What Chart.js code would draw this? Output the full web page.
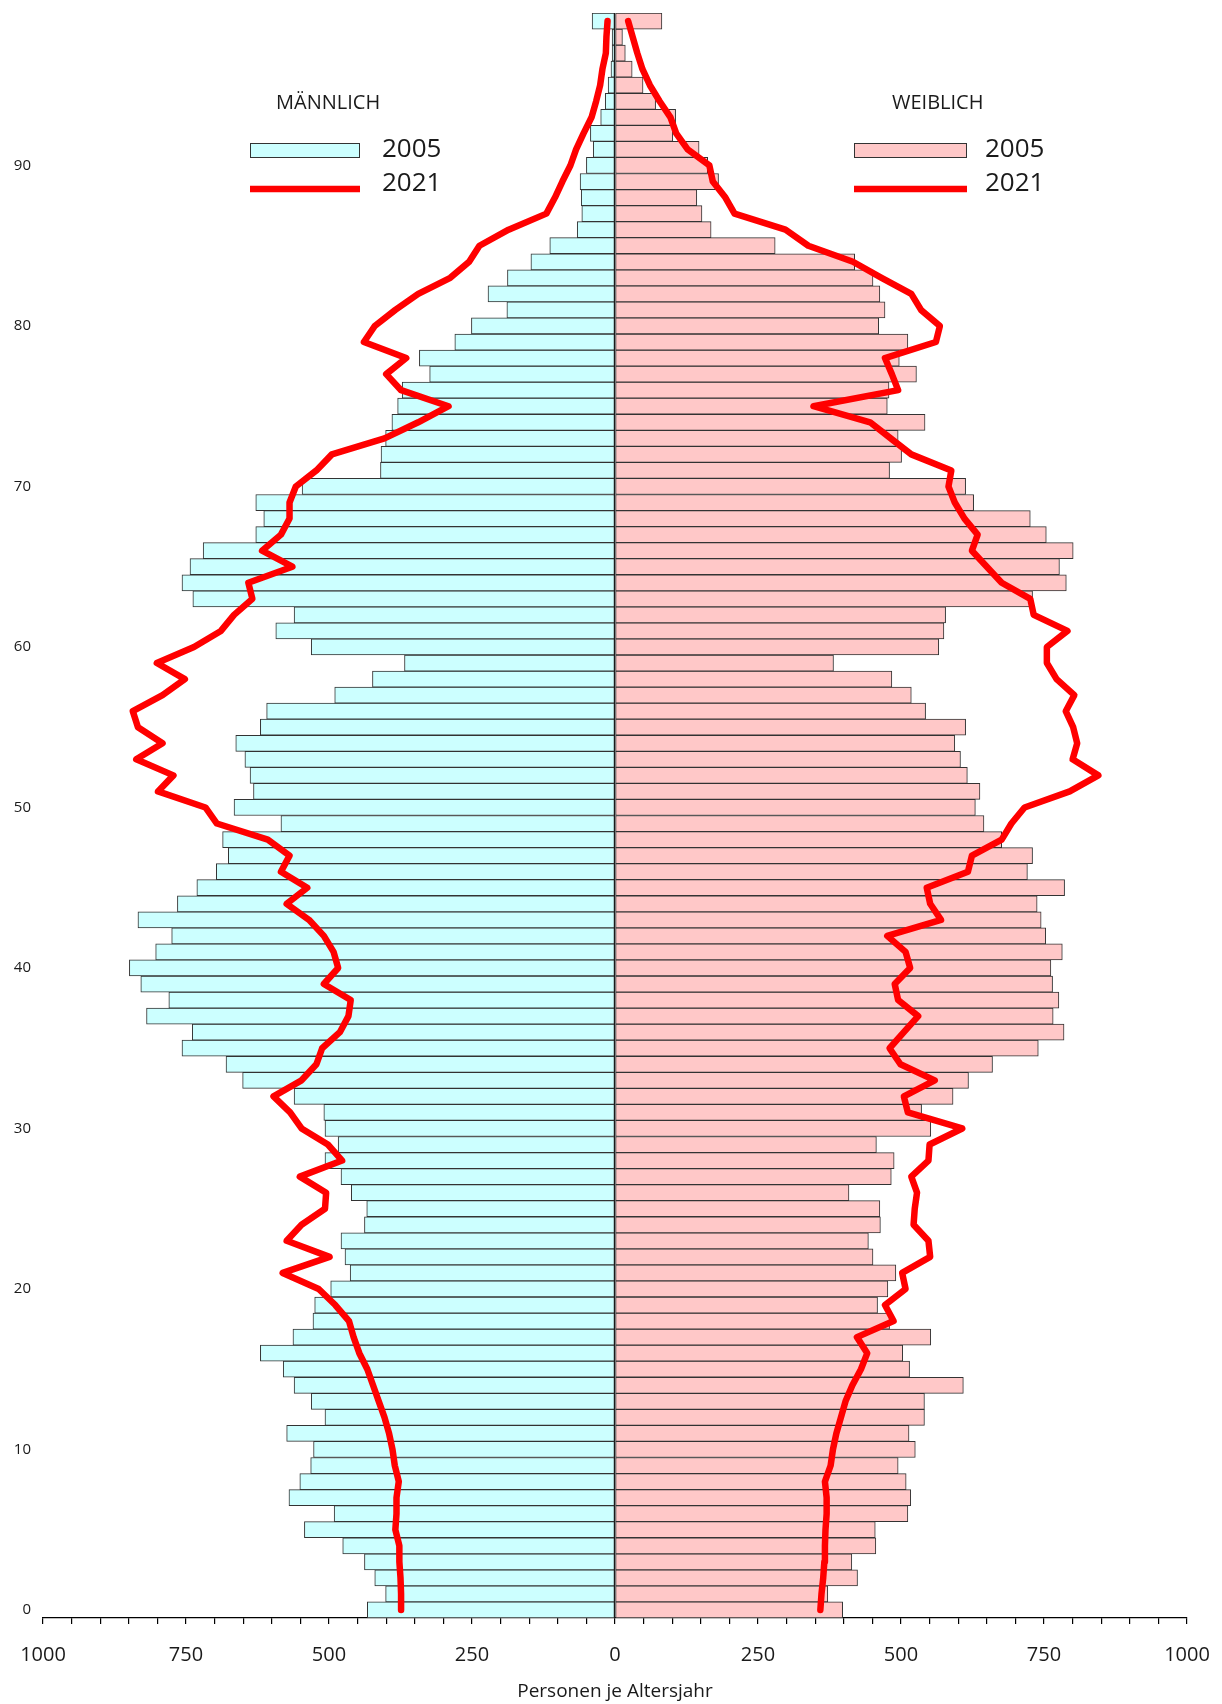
<!DOCTYPE html>
<html lang="de">
<head>
<meta charset="utf-8">
<title>Bevölkerung nach Altersjahren</title>
<script src="https://cdn.jsdelivr.net/npm/chart.js@4.4.1/dist/chart.umd.min.js"></script>
<style>
  html, body { margin: 0; padding: 0; background: #fff; }
  #wrap { width: 1222px; height: 1704px; position: relative; }
</style>
</head>
<body>
<div id="wrap"><canvas id="pyramid"></canvas></div>
<script>
// Altersjahre 0 bis 99 (unten nach oben)
const ages = Array.from({ length: 100 }, (_, i) => String(i));
const ageTicks = ['0', '10', '20', '30', '40', '50', '60', '70', '80', '90'];
const xMajorTicks = [-1000, -750, -500, -250, 0, 250, 500, 750, 1000];

// Personen je Altersjahr, Index = Alter
const male2005 = [
  433, 401, 420, 438, 476, 543, 491, 570, 551, 532,
  527, 574, 507, 531, 561, 580, 620, 563, 528, 525,
  497, 463, 472, 479, 438, 434, 461, 479, 507, 484,
  507, 509, 561, 651, 680, 757, 739, 819, 780, 829,
  849, 803, 775, 834, 765, 731, 697, 676, 686, 584,
  666, 632, 638, 647, 663, 620, 609, 490, 424, 368,
  531, 593, 561, 738, 757, 743, 720, 628, 614, 628,
  547, 410, 409, 401, 390, 380, 372, 324, 342, 280,
  251, 189, 222, 188, 147, 114, 66, 58, 59, 61,
  50, 38, 43, 25, 17, 12, 7, 5, 5, 40
];

const female2005 = [
  398, 372, 424, 414, 456, 455, 512, 517, 509, 495,
  525, 514, 541, 541, 609, 515, 503, 552, 480, 459,
  477, 491, 451, 443, 464, 463, 409, 483, 488, 457,
  552, 536, 591, 618, 660, 740, 785, 766, 776, 765,
  762, 782, 753, 745, 738, 786, 721, 730, 676, 645,
  630, 638, 616, 604, 594, 613, 543, 518, 484, 382,
  566, 575, 578, 730, 789, 777, 801, 754, 726, 627,
  613, 480, 501, 495, 542, 476, 479, 527, 497, 512,
  461, 472, 463, 451, 419, 280, 168, 152, 143, 181,
  162, 147, 101, 106, 71, 49, 30, 18, 13, 82
];

const male2021 = [
  374, 374, 375, 377, 377, 384, 382, 382, 378, 385,
  389, 395, 403, 413, 423, 433, 447, 457, 465, 489,
  518, 581, 499, 574, 548, 507, 505, 551, 477, 502,
  548, 568, 597, 548, 522, 512, 481, 466, 462, 509,
  484, 492, 509, 535, 574, 538, 584, 569, 607, 696,
  716, 799, 772, 837, 791, 834, 843, 791, 752, 801,
  736, 689, 666, 634, 641, 564, 617, 584, 569, 569,
  558, 522, 495, 403, 344, 291, 374, 400, 365, 439,
  420, 384, 344, 288, 255, 237, 186, 120, 105, 92,
  78, 68, 55, 41, 33, 26, 22, 16, 15, 13
];

const female2021 = [
  359, 361, 364, 366, 367, 368, 370, 370, 367, 377,
  381, 387, 395, 403, 415, 430, 441, 423, 487, 472,
  508, 502, 551, 548, 522, 524, 528, 518, 548, 550,
  607, 512, 505, 559, 499, 480, 505, 530, 495, 489,
  516, 508, 476, 570, 551, 545, 617, 624, 676, 693,
  716, 795, 845, 800, 808, 801, 788, 803, 772, 755,
  755, 791, 732, 726, 676, 650, 624, 634, 611, 594,
  583, 588, 518, 482, 446, 347, 495, 484, 472, 561,
  568, 535, 518, 466, 416, 338, 298, 209, 193, 171,
  165, 127, 107, 97, 78, 61, 48, 39, 31, 23
];

const FONT = '"Open Sans", "Noto Sans", sans-serif';
const TEXT = '#1a1a1a';
Chart.defaults.font.family = FONT;

// Zwei Legendenblöcke oben links und rechts
const legendBlocks = [
  { title: 'MÄNNLICH', x: 250, w: 110, titleX: 276, textX: 382, bar: 2, line: 0 },
  { title: 'WEIBLICH', x: 854, w: 113, titleX: 892, textX: 985, bar: 3, line: 1 }
];

const sideLegends = {
  id: 'sideLegends',
  afterDraw(chart) {
    const ctx = chart.ctx;
    ctx.save();
    ctx.textBaseline = 'alphabetic';
    ctx.textAlign = 'left';
    for (const b of legendBlocks) {
      const bars = chart.data.datasets[b.bar];
      const line = chart.data.datasets[b.line];

      ctx.fillStyle = TEXT;
      ctx.font = '20px ' + FONT;
      ctx.fillText(b.title, b.titleX, 109);

      ctx.fillStyle = bars.backgroundColor;
      ctx.fillRect(b.x, 143, b.w, 15);
      ctx.strokeStyle = bars.borderColor;
      ctx.lineWidth = 1;
      ctx.strokeRect(b.x + 0.5, 143.5, b.w - 1, 14);

      ctx.strokeStyle = line.borderColor;
      ctx.lineWidth = line.borderWidth;
      ctx.lineCap = 'butt';
      ctx.beginPath();
      ctx.moveTo(b.x, 189);
      ctx.lineTo(b.x + b.w, 189);
      ctx.stroke();

      ctx.fillStyle = TEXT;
      ctx.font = '26px ' + FONT;
      ctx.fillText(bars.label, b.textX, 157);
      ctx.fillText(line.label, b.textX, 191);
    }
    ctx.restore();
  }
};

const lineStyle = {
  type: 'line',
  indexAxis: 'y',
  borderColor: '#ff0000',
  borderWidth: 6.5,
  pointRadius: 0,
  pointHoverRadius: 0,
  tension: 0,
  borderJoinStyle: 'round',
  borderCapStyle: 'round',
  fill: false,
  order: 0
};

const barStyle = {
  type: 'bar',
  borderColor: '#333333',
  borderWidth: 1,
  borderSkipped: false,
  grouped: false,
  barPercentage: 1,
  categoryPercentage: 1,
  order: 1
};

new Chart(document.getElementById('pyramid'), {
  type: 'bar',
  data: {
    labels: ages,
    datasets: [
      { ...lineStyle, label: '2021', data: male2021.map(v => -v) },
      { ...lineStyle, label: '2021', data: female2021 },
      { ...barStyle, label: '2005', data: male2005.map(v => -v), backgroundColor: '#ccffff' },
      { ...barStyle, label: '2005', data: female2005, backgroundColor: '#ffc8c8' }
    ]
  },
  options: {
    indexAxis: 'y',
    responsive: true,
    maintainAspectRatio: false,
    animation: false,
    layout: { padding: { left: 0, right: 35, top: 13, bottom: 0 } },
    plugins: {
      legend: { display: false },
      tooltip: { enabled: false }
    },
    scales: {
      x: {
        type: 'linear',
        min: -1000,
        max: 1000,
        z: 1,
        ticks: {
          stepSize: 50,
          maxTicksLimit: 100,
          autoSkip: false,
          maxRotation: 0,
          padding: 19,
          color: TEXT,
          font: { size: 20 },
          callback: v => xMajorTicks.includes(v) ? String(Math.abs(v)) : ''
        },
        grid: {
          color: c => (c.tick && c.tick.value === 0) ? '#000000' : 'rgba(0,0,0,0)',
          tickColor: '#000000',
          tickLength: 6,
          lineWidth: 1.2
        },
        border: { display: true, color: '#000000', width: 1.3 },
        title: {
          display: true,
          text: 'Personen je Altersjahr',
          color: TEXT,
          font: { size: 19 },
          padding: { top: 0, bottom: 1 }
        },
        // feste Achsenhöhe, Randabstände über layout.padding
        afterFit: s => { s.height = 86; s.paddingLeft = 0; s.paddingRight = 0; }
      },
      y: {
        reverse: true,
        grid: { display: false, drawTicks: false },
        border: { display: false },
        ticks: {
          autoSkip: false,
          padding: 12,
          color: TEXT,
          font: { size: 15 },
          callback: function (v) {
            const lab = this.getLabelForValue(v);
            return ageTicks.includes(lab) ? lab : '';
          }
        },
        afterFit: s => { s.width = 43; s.paddingTop = 0; s.paddingBottom = 0; }
      }
    }
  },
  plugins: [sideLegends]
});
</script>
</body>
</html>
